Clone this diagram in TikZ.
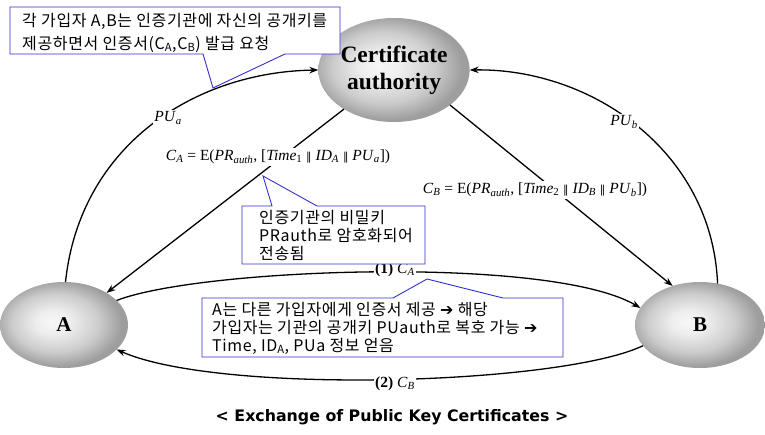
\documentclass[tikz,border=0pt]{standalone}
\usepackage{fontspec}
\setmainfont{Liberation Serif}
\newfontfamily\kr[LetterSpace=4]{Noto Sans CJK KR}
\newfontfamily\dvs{DejaVu Sans}
\newfontfamily\dvserif{DejaVu Serif}
\usetikzlibrary{shapes.geometric,arrows.meta}
\definecolor{cblue}{RGB}{50,50,205}
\pgfdeclareradialshading{ballgray}{\pgfpoint{-5bp}{2bp}}{color(0bp)=(white!97!black); color(7bp)=(white!93!black); color(17bp)=(black!20); color(25bp)=(black!38); color(50bp)=(black!38)}
\newcommand\sub[1]{\textsubscript{#1}}
\newcommand\dbar{{\dvserif\fontsize{11}{11}\selectfont ‖}}
\newcommand\rarr{{\dvs\bfseries ➔}}
\begin{document}
\begin{tikzpicture}[x=1pt,y=-1pt,
  ent/.style={ellipse, shading=ballgray, inner sep=0pt, outer sep=0pt},
  arr/.style={-{Stealth[length=9pt,width=6.5pt]}, line width=1.3pt},
  lbl/.style={fill=white, inner sep=1.5pt, font=\fontsize{15.5}{18}\selectfont},
  cbox/.style={draw=cblue, fill=white, line width=0.9pt},
  ctext/.style={anchor=base west, align=left, inner sep=0pt, font=\kr\fontsize{16}{18}\selectfont}]
\useasboundingbox (0,0) rectangle (765,434);
\fill[white] (0,0) rectangle (765,434);
% entities
\node[ent, minimum width=148pt, minimum height=104pt, align=center,
      font=\bfseries\fontsize{23.5}{27}\selectfont] (CA) at (394,70) {Certificate\\authority};
\node[ent, minimum width=128pt, minimum height=86pt,
      font=\bfseries\fontsize{21}{24}\selectfont] (A) at (64,325) {A};
\node[ent, minimum width=130pt, minimum height=86pt,
      font=\bfseries\fontsize{21}{24}\selectfont] (B) at (700,325) {B};
% connectors
\draw[arr] (A.88) .. controls (80,145) and (195,72) .. (CA.west);
\draw[arr] (CA.218) -- (A.37);
\draw[arr] (CA.328) -- (B.125);
\draw[arr] (B.67) .. controls (712,150) and (590,68) .. (CA.east);
\draw[arr] (A.25) .. controls (200,268) and (550,255) .. (B.164);
\draw[arr] (B.200) .. controls (560,385) and (220,395) .. (A.335);
% labels
\node[lbl] (pua) at (168,118) {\textit{PU}\sub{\textit{a}}};
\node[lbl] (pub) at (624,122) {\textit{PU}\sub{\textit{b}}};
\node[lbl] (ca) at (278,157) {\textit{C}\sub{\textit{A}} = E(\textit{PR}\sub{\textit{auth}}, [\textit{Time}\sub{1} \dbar\ \textit{ID}\sub{\textit{A}} \dbar\ \textit{PU}\sub{\textit{a}}])};
\node[lbl] (cb) at (535,190) {\textit{C}\sub{\textit{B}} = E(\textit{PR}\sub{\textit{auth}}, [\textit{Time}\sub{2} \dbar\ \textit{ID}\sub{\textit{B}} \dbar\ \textit{PU}\sub{\textit{b}}])};
\node[lbl] (m1) at (395,270) {\textbf{(1)} \textit{C}\sub{\textit{A}}};
\node[lbl] (m2) at (395,384) {\textbf{(2)} \textit{C}\sub{\textit{B}}};
% callout 1
\draw[cbox] (10,7) -- (340,7) -- (340,54) -- (285,54) -- (213,88) -- (203,54) -- (10,54) -- cycle;
\node[ctext, font=\kr\fontsize{16}{23}\selectfont] (t1) at (22,49) {각 가입자 A,B는 인증기관에 자신의 공개키를\\제공하면서 인증서(C\sub{A},C\sub{B}) 발급 요청};
% callout 2
\draw[cbox] (242,206) -- (272,206) -- (263,176) -- (317,206) -- (425,206) -- (425,264) -- (242,264) -- cycle;
\node[ctext] (t2) at (259,259) {인증기관의 비밀키\\PRauth로 암호화되어\\전송됨};
% callout 3
\draw[cbox] (202,298) -- (393,298) -- (427,279) -- (503,298) -- (563,298) -- (563,357) -- (202,357) -- cycle;
\node[ctext] (t3) at (212,351) {A는 다른 가입자에게 인증서 제공 \rarr\ 해당\\가입자는 기관의 공개키 PUauth로 복호 가능 \rarr\\Time, ID\sub{A}, PUa 정보 얻음};
% caption
\node[font=\dvs\bfseries\fontsize{15.8}{18}\selectfont, anchor=base, inner sep=0pt] (cap) at (392,421) {< Exchange of Public Key Certificates >};
\end{tikzpicture}
\end{document}
